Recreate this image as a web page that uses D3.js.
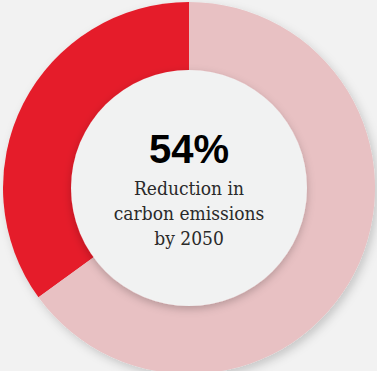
<!DOCTYPE html>
<html>
<head>
<meta charset="utf-8">
<script src="https://cdn.jsdelivr.net/npm/d3@7"></script>
<style>
  html, body { margin: 0; padding: 0; background: #f2f2f2; overflow: hidden; }
  .sub { font-family: "DejaVu Serif Condensed", "DejaVu Serif", serif; }
</style>
</head>
<body>
<div id="chart"></div>
<script>
// slice data (red share is about a third of the ring)
let labels = ["Reduced", "Remaining"]
let values = [35, 65]
let colors = ["#e51d2a", "#e8c1c3"]
let bigText = "54%"
let subLines = ["Reduction in", "carbon emissions", "by 2050"]

let W = 377, H = 371
let cx = 189, cy = 188
let outerR = 186, innerR = 118

let svg = d3.select("#chart")
    .append("svg")
    .attr("width", W)
    .attr("height", H)

// shadows
let defs = svg.append("defs")
let f1 = defs.append("filter").attr("id", "ringShadow")
    .attr("x", "-20%").attr("y", "-20%").attr("width", "140%").attr("height", "140%")
f1.append("feDropShadow").attr("dx", 3).attr("dy", 4).attr("stdDeviation", 5)
    .attr("flood-color", "#000").attr("flood-opacity", 0.18)
let f2 = defs.append("filter").attr("id", "innerShadow")
    .attr("x", "-20%").attr("y", "-20%").attr("width", "140%").attr("height", "140%")
f2.append("feDropShadow").attr("dx", 0).attr("dy", 3).attr("stdDeviation", 4)
    .attr("flood-color", "#000").attr("flood-opacity", 0.22)

svg.append("rect").attr("width", W).attr("height", H).attr("fill", "#f2f2f2")

let g = svg.append("g").attr("transform", `translate(${cx},${cy})`)

// pie counter-clockwise from top: red slice runs to the left
let pie = d3.pie().sort(null).value(d => d)
    .startAngle(0).endAngle(-2 * Math.PI)
let arc = d3.arc().innerRadius(0).outerRadius(outerR)

g.append("g")
    .attr("filter", "url(#ringShadow)")
    .selectAll("path")
    .data(pie(values))
    .enter()
    .append("path")
    .attr("d", arc)
    .attr("fill", (d, i) => colors[i])

// center disc
g.append("circle")
    .attr("r", innerR)
    .attr("fill", "#f1f2f2")
    .attr("filter", "url(#innerShadow)")

g.append("text")
    .attr("x", 0)
    .attr("y", -25)
    .attr("text-anchor", "middle")
    .attr("font-family", "'Liberation Sans', Arial, sans-serif")
    .attr("font-weight", "bold")
    .attr("font-size", 40)
    .attr("fill", "#000")
    .text(bigText)

g.selectAll(".sub")
    .data(subLines)
    .enter()
    .append("text")
    .attr("class", "sub")
    .attr("x", 0)
    .attr("y", (d, i) => 7 + i * 25)
    .attr("text-anchor", "middle")
    .attr("font-size", 19)
    .attr("fill", "#2a2a2a")
    .text(d => d)
</script>
</body>
</html>
